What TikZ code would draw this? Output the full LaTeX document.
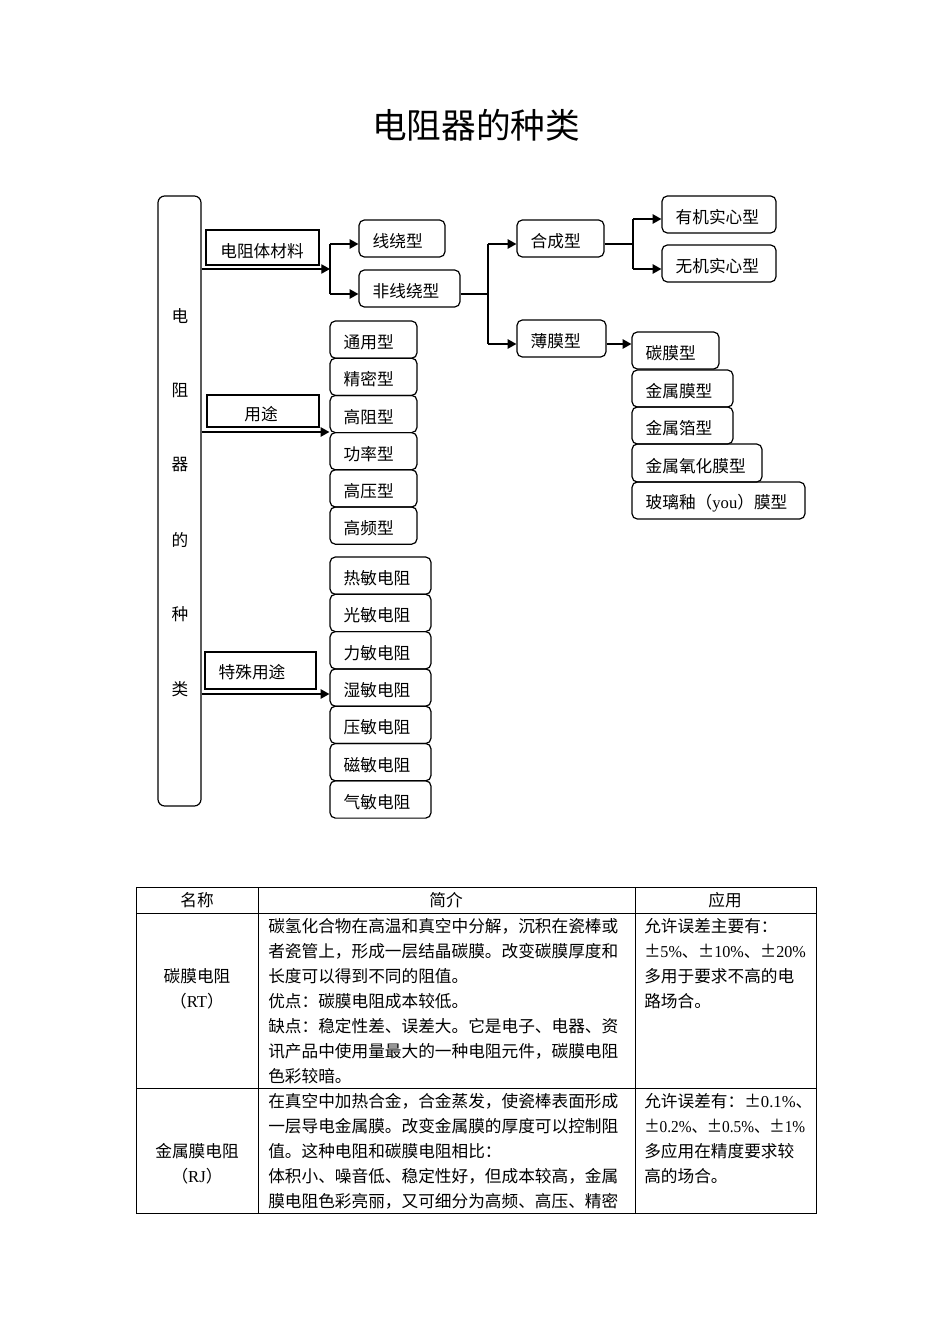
\documentclass[tikz,border=0pt]{standalone}
\usepackage{fontspec}
\setmainfont{Liberation Serif}
\newfontfamily\cjk{Noto Sans CJK SC}
\usetikzlibrary{arrows.meta,fit}
\newcommand\lt[1]{{\rmfamily #1}}
\newcommand\rb[6]{\node[rbox, fit={(#2,#3) (#4,#5)}] (#1) {};\node[txt, anchor=west] (#1t) at ([xshift=10.5pt,yshift=-2pt]#1.west) {#6};}
\begin{document}
\begin{tikzpicture}[x=0.75pt,y=-0.75pt,
 rbox/.style={draw, rounded corners=4pt, line width=0.9pt, inner sep=0pt},
 lbox/.style={draw, line width=0.9pt, inner sep=0pt},
 txt/.style={font=\cjk\fontsize{12.5pt}{15pt}\selectfont, inner sep=0pt},
 arr/.style={line width=0.9pt, -{Triangle[length=6.5pt,width=7pt]}},
 ln/.style={line width=0.9pt},
 tl/.style={line width=0.7pt}]
\useasboundingbox (0,0) rectangle (950,1344);
% title
\node[font=\cjk\fontsize{26pt}{30pt}\selectfont, inner sep=0pt] (title) at (476,125) {电阻器的种类};
% big box
\node[rbox, rounded corners=5pt, fit={(158,196) (201,806)}] (B) {};
\node[txt] (b1) at (180,316) {电};
\node[txt] (b2) at (180,390) {阻};
\node[txt] (b3) at (180,465) {器};
\node[txt] (b4) at (180,540) {的};
\node[txt] (b5) at (180,614) {种};
\node[txt] (b6) at (180,689) {类};
% label boxes
\node[lbox, fit={(206,230) (319,265)}] (mat) {};
\node[txt] (matt) at (262,251) {电阻体材料};
\node[lbox, fit={(207,395) (319,427)}] (yt) {};
\node[txt] (ytt) at (261,414) {用途};
\node[lbox, fit={(205,652) (316,689)}] (ts) {};
\node[txt] (tst) at (252,672) {特殊用途};
% material boxes
\rb{xr}{359}{220}{445}{257}{线绕型}
\rb{fx}{359}{270}{460}{307}{非线绕型}
\rb{hc}{517}{220}{604}{257}{合成型}
\rb{bm}{517}{320}{606}{357}{薄膜型}
\rb{yj}{662}{196}{776}{233}{有机实心型}
\rb{wj}{662}{245}{776}{282}{无机实心型}
\rb{tm}{632}{332}{719}{369}{碳膜型}
\rb{js}{632}{370}{733}{407}{金属膜型}
\rb{jb}{632}{407}{733}{444}{金属箔型}
\rb{jy}{632}{444}{762}{482}{金属氧化膜型}
\rb{bl}{632}{482}{805}{519}{玻璃釉（\lt{you}）膜型}
% use boxes
\rb{u1}{330}{321}{417}{358.2}{通用型}
\rb{u2}{330}{358.2}{417}{395.4}{精密型}
\rb{u3}{330}{395.4}{417}{432.6}{高阻型}
\rb{u4}{330}{432.6}{417}{469.8}{功率型}
\rb{u5}{330}{469.8}{417}{507}{高压型}
\rb{u6}{330}{507}{417}{544.2}{高频型}
% special boxes
\rb{s1}{330}{557}{431}{594.3}{热敏电阻}
\rb{s2}{330}{594.3}{431}{631.6}{光敏电阻}
\rb{s3}{330}{631.6}{431}{668.9}{力敏电阻}
\rb{s4}{330}{668.9}{431}{706.2}{湿敏电阻}
\rb{s5}{330}{706.2}{431}{743.5}{压敏电阻}
\rb{s6}{330}{743.5}{431}{780.8}{磁敏电阻}
\rb{s7}{330}{780.8}{431}{818.1}{气敏电阻}
% connectors
\coordinate (j1) at (330,269);
\coordinate (j1a) at (330,244);
\coordinate (j1b) at (330,294);
\draw[arr] (B.east |- j1) -- (j1);
\draw[ln] (j1a) -- (j1b);
\draw[arr] (j1a) -- (xr.west |- j1a);
\draw[arr] (j1b) -- (fx.west |- j1b);
\coordinate (j2) at (488,294);
\coordinate (j2a) at (488,244);
\coordinate (j2b) at (488,344);
\draw[ln] (fx.east |- j2) -- (j2);
\draw[ln] (j2a) -- (j2b);
\draw[arr] (j2a) -- (hc.west |- j2a);
\draw[arr] (j2b) -- (bm.west |- j2b);
\coordinate (j3) at (633,244);
\coordinate (j3a) at (633,219);
\coordinate (j3b) at (633,269);
\draw[ln] (hc.east |- j3) -- (j3);
\draw[ln] (j3a) -- (j3b);
\draw[arr] (j3a) -- (yj.west |- j3a);
\draw[arr] (j3b) -- (wj.west |- j3b);
\draw[arr] (bm.east |- 0,344) -- (tm.west |- 0,344);
\draw[arr] (B.east |- 0,432) -- (u3.west |- 0,432);
\draw[arr] (B.east |- 0,694) -- (s4.west |- 0,694);
% table
\draw[tl] (136,887) rectangle (816,1213);
\draw[tl] (136,913) -- (816,913);
\draw[tl] (136,1088) -- (816,1088);
\draw[tl] (258,887) -- (258,1213);
\draw[tl] (635,887) -- (635,1213);
\node[txt] (h1) at (197,900) {名称};
\node[txt] (h2) at (446,900) {简介};
\node[txt] (h3) at (725,900) {应用};
\node[txt] (n1a) at (197,976) {碳膜电阻};
\node[txt] (n1b) at (197,1001) {（\lt{RT}）};
\node[txt] (n2a) at (197,1151) {金属膜电阻};
\node[txt] (n2b) at (197,1176) {（\lt{RJ}）};
\begin{scope}[every node/.style={txt, anchor=west}]
\node (r1l1) at (268,926) {碳氢化合物在高温和真空中分解，沉积在瓷棒或};
\node (r1l2) at (268,951) {者瓷管上，形成一层结晶碳膜。改变碳膜厚度和};
\node (r1l3) at (268,976) {长度可以得到不同的阻值。};
\node (r1l4) at (268,1001) {优点：碳膜电阻成本较低。};
\node (r1l5) at (268,1026) {缺点：稳定性差、误差大。它是电子、电器、资};
\node (r1l6) at (268,1051) {讯产品中使用量最大的一种电阻元件，碳膜电阻};
\node (r1l7) at (268,1076) {色彩较暗。};
\node (r1c1) at (644,926) {允许误差主要有：};
\node (r1c2) at (644,951) {\scalebox{0.97}[1]{±\lt{5\%}、±\lt{10\%}、±\lt{20\%}}};
\node (r1c3) at (644,976) {多用于要求不高的电};
\node (r1c4) at (644,1001) {路场合。};
\node (r2l1) at (268,1101) {在真空中加热合金，合金蒸发，使瓷棒表面形成};
\node (r2l2) at (268,1126) {一层导电金属膜。改变金属膜的厚度可以控制阻};
\node (r2l3) at (268,1151) {值。这种电阻和碳膜电阻相比：};
\node (r2l4) at (268,1176) {体积小、噪音低、稳定性好，但成本较高，金属};
\node (r2l5) at (268,1201) {膜电阻色彩亮丽，又可细分为高频、高压、精密};
\node (r2c1) at (644,1101) {允许误差有：±\lt{0.1\%}、};
\node (r2c2) at (644,1126) {\scalebox{0.92}[1]{±\lt{0.2\%}、±\lt{0.5\%}、±\lt{1\%}}};
\node (r2c3) at (644,1151) {多应用在精度要求较};
\node (r2c4) at (644,1176) {高的场合。};
\end{scope}
\end{tikzpicture}
\end{document}
